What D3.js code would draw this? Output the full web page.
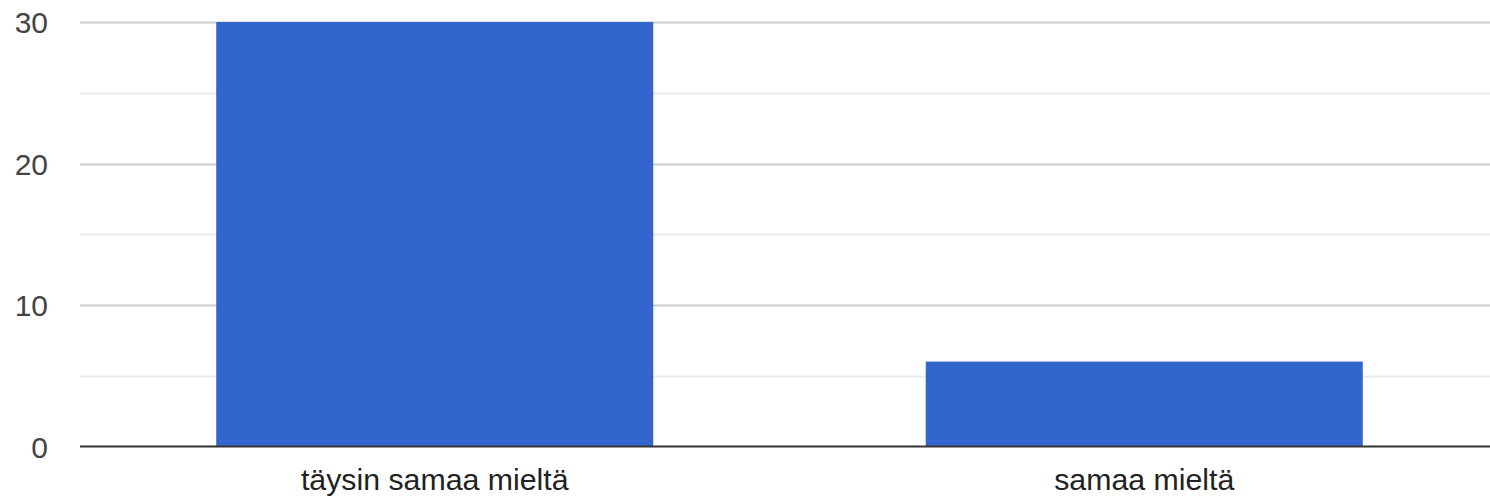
<!DOCTYPE html>
<html>
<head>
<meta charset="utf-8">
<script src="https://cdn.jsdelivr.net/npm/d3@7"></script>
<style>
  html, body { margin: 0; padding: 0; background: #fff; }
  svg { display: block; }
</style>
</head>
<body>
<svg id="chart" width="1490" height="501"></svg>
<script>
const categories = ["täysin samaa mieltä", "samaa mieltä"];
const values = [30, 6];
const majorTicks = [0, 10, 20, 30];
const minorTicks = [5, 15, 25];

const width = 1490, height = 501;
const margin = { top: 22, right: -9, bottom: 55, left: 80 };

const svg = d3.select("#chart");
const x = d3.scaleBand()
  .domain(categories)
  .range([margin.left, width - margin.right])
  .paddingInner(0.384)
  .paddingOuter(0.192);
const y = d3.scaleLinear()
  .domain([0, 30])
  .range([height - margin.bottom + 0.5, margin.top]);

// minor gridlines
svg.append("g").selectAll("line").data(minorTicks).join("line")
  .attr("x1", margin.left).attr("x2", width)
  .attr("y1", d => Math.round(y(d)) + 0.5).attr("y2", d => Math.round(y(d)) + 0.5)
  .attr("stroke", "#ebebeb").attr("stroke-width", 2);

// major gridlines
svg.append("g").selectAll("line").data(majorTicks.filter(d => d !== 0)).join("line")
  .attr("x1", margin.left).attr("x2", width)
  .attr("y1", d => Math.round(y(d)) + 0.5).attr("y2", d => Math.round(y(d)) + 0.5)
  .attr("stroke", "#cccccc").attr("stroke-width", 2);

// bars
svg.append("g").selectAll("rect").data(values).join("rect")
  .attr("x", (d, i) => x(categories[i]))
  .attr("width", x.bandwidth())
  .attr("y", d => y(d))
  .attr("height", d => y(0) - y(d))
  .attr("fill", "#3366cc");

// baseline
svg.append("line")
  .attr("x1", margin.left).attr("x2", width)
  .attr("y1", y(0)).attr("y2", y(0))
  .attr("stroke", "#333333").attr("stroke-width", 2);

// y tick labels
const yAxis = d3.axisLeft(y).tickValues(majorTicks).tickSize(0).tickPadding(0);
const gy = svg.append("g").attr("transform", "translate(48,0)").call(yAxis);
gy.select(".domain").remove();
gy.selectAll("text")
  .attr("font-family", "Liberation Sans, Arial, sans-serif")
  .attr("font-size", 30)
  .attr("fill", "#444444")
  .attr("dy", "0.36em");

// x labels
const xAxis = d3.axisBottom(x).tickSize(0).tickPadding(0);
const gx = svg.append("g").attr("transform", "translate(0,490)").call(xAxis);
gx.select(".domain").remove();
gx.selectAll("text")
  .attr("font-family", "Liberation Sans, Arial, sans-serif")
  .attr("font-size", 30.3)
  .attr("fill", "#222222")
  .attr("dy", 0);
</script>
</body>
</html>
